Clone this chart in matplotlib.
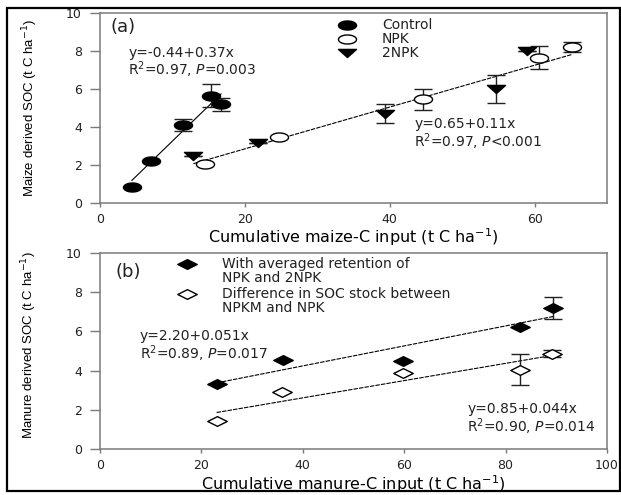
import numpy as np
import matplotlib
matplotlib.use("Agg")
import matplotlib.pyplot as plt
from matplotlib.path import Path
from matplotlib.patches import Rectangle

# ---------- DATA: panel (a) ----------
ctrl_x = [4.4, 7.0, 11.4, 15.3, 16.7]
ctrl_y = [0.85, 2.2, 4.1, 5.65, 5.2]
ctrl_err = [0.0, 0.0, 0.3, 0.6, 0.35]

npk_x = [14.5, 24.7, 44.6, 60.6, 65.1]
npk_y = [2.05, 3.5, 5.45, 7.65, 8.2]
npk_err = [0.0, 0.0, 0.55, 0.6, 0.25]

npk2_x = [12.9, 21.8, 39.4, 54.7, 59.0]
npk2_y = [2.5, 3.15, 4.7, 6.0, 8.0]
npk2_err = [0.0, 0.0, 0.5, 0.75, 0.0]

fit_a1 = (-0.44, 0.37)   # control
fit_a2 = (0.65, 0.11)    # NPK + 2NPK

# ---------- DATA: panel (b) ----------
avg_x = [23.0, 36.0, 59.8, 82.8, 89.4]
avg_y = [3.33, 4.55, 4.5, 6.2, 7.2]
avg_err = [0.0, 0.0, 0.0, 0.0, 0.55]

diff_x = [23.0, 35.8, 59.7, 82.8, 89.1]
diff_y = [1.45, 2.9, 3.88, 4.05, 4.87]
diff_err = [0.0, 0.0, 0.0, 0.8, 0.2]

fit_b1 = (2.20, 0.051)
fit_b2 = (0.85, 0.044)

# ---------- wide markers (picture is stretched sideways) ----------
t = np.linspace(0, 2 * np.pi, 60)
ellipse = Path(np.column_stack([np.cos(t), 0.5 * np.sin(t)]), closed=True)
tri_down = Path([(-1, 0.45), (1, 0.45), (0, -0.45), (-1, 0.45)], closed=True)
diamond = Path([(-1, 0), (0, 0.5), (1, 0), (0, -0.5), (-1, 0)], closed=True)

plt.rcParams['font.family'] = ['DejaVu Sans']
plt.rcParams['mathtext.fontset'] = 'dejavusans'

W, H = 621, 495
fig = plt.figure(figsize=(W / 100, H / 100), dpi=100)


def px_axes(left, top, right, bottom):
    return fig.add_axes([left / W, 1 - bottom / H, (right - left) / W, (bottom - top) / H])


ax1 = px_axes(100, 13, 607, 203)
ax2 = px_axes(100, 253, 607, 449)

spine_col = "#7a7a7a"
txt_col = "#222222"
FS = 10          # in-plot text
XL = 11.5        # x axis labels
ylab_font = ['Liberation Sans', 'DejaVu Sans']


def style(ax, xlim, xticks):
    ax.set_xlim(*xlim)
    ax.set_ylim(0, 10)
    ax.set_xticks(xticks)
    ax.set_yticks(range(0, 11, 2))
    for s in ax.spines.values():
        s.set_color(spine_col)
        s.set_linewidth(1.1)
    ax.tick_params(axis='y', direction='out', length=7, width=1, color=spine_col,
                   labelsize=9, labelcolor=txt_col, pad=6)
    ax.tick_params(axis='x', direction='out', length=3, width=1, color=spine_col,
                   labelsize=9, labelcolor=txt_col, pad=4.5)


def series(ax, x, y, err, marker, ms, face):
    ax.errorbar(x, y, yerr=err, fmt='none', ecolor='#222222', elinewidth=1,
                capsize=6.5, capthick=1, zorder=2)
    ax.plot(x, y, linestyle='none', marker=marker, markersize=ms,
            markerfacecolor=face, markeredgecolor='black', markeredgewidth=1, zorder=3)


def fit_line(ax, fit, xs, ls='-'):
    xx = np.array([min(xs), max(xs)])
    ax.plot(xx, fit[0] + fit[1] * xx, color='black', lw=0.8, ls=ls, zorder=1)


def two_lines(ax, x, ymid, l1, l2, dy):
    # dy = half the gap between the two lines, in data units
    ax.text(x, ymid + dy, l1, fontsize=FS, va='center', color=txt_col)
    ax.text(x, ymid - dy, l2, fontsize=FS, va='center', color=txt_col)


# ---------- panel (a) ----------
style(ax1, (0, 70), [0, 20, 40, 60])
fit_line(ax1, fit_a1, ctrl_x)
fit_line(ax1, fit_a2, npk_x + npk2_x, ls=(0, (4, 1)))
series(ax1, ctrl_x, ctrl_y, ctrl_err, ellipse, 13, 'black')
series(ax1, npk_x, npk_y, npk_err, ellipse, 13, 'white')
series(ax1, npk2_x, npk2_y, npk2_err, tri_down, 13, 'black')

ax1.text(1.4, 9.26, "(a)", fontsize=13, va='center', color=txt_col)
two_lines(ax1, 3.9, 7.45, "y=-0.44+0.37x", r"R$^2$=0.97, $P$=0.003", 0.46)
two_lines(ax1, 43.4, 3.71, "y=0.65+0.11x", r"R$^2$=0.97, $P$<0.001", 0.46)

leg_a = [("Control", ellipse, 'black'), ("NPK", ellipse, 'white'), ("2NPK", tri_down, 'black')]
for i, (lab, mk, fc) in enumerate(leg_a):
    yy = 0.937 - i * 0.074
    ax1.plot([0.487], [yy], transform=ax1.transAxes, marker=mk, markersize=13,
             markerfacecolor=fc, markeredgecolor='black', markeredgewidth=1, clip_on=False)
    ax1.text(0.556, yy, lab, transform=ax1.transAxes, fontsize=FS, va='center', color=txt_col)

ax1.set_xlabel(r"Cumulative maize-C input (t C ha$^{-1}$)", fontsize=XL, color='black')
ax1.xaxis.set_label_coords(0.5, -0.18)
ax1.xaxis.label.set_va('center')
ax1.set_ylabel(r"Maize derived SOC (t C ha$^{-1}$)", fontsize=9.5, family=ylab_font)
ax1.yaxis.set_label_coords(-0.138, 0.5)
ax1.yaxis.label.set_va('center')

# ---------- panel (b) ----------
style(ax2, (0, 100), [0, 20, 40, 60, 80, 100])
fit_line(ax2, fit_b1, avg_x, ls=(0, (4, 1)))
fit_line(ax2, fit_b2, diff_x, ls=(0, (4, 1)))
series(ax2, avg_x, avg_y, avg_err, diamond, 14, 'black')
series(ax2, diff_x, diff_y, diff_err, diamond, 14, 'white')

ax2.text(3.0, 9.03, "(b)", fontsize=13, va='center', color=txt_col)
two_lines(ax2, 7.9, 5.33, "y=2.20+0.051x", r"R$^2$=0.89, $P$=0.017", 0.45)
two_lines(ax2, 72.4, 1.61, "y=0.85+0.044x", r"R$^2$=0.90, $P$=0.014", 0.45)

leg_b = [(["With averaged retention of", "NPK and 2NPK"], 'black', 0.945),
         (["Difference in SOC stock between", "NPKM and NPK"], 'white', 0.79)]
for lines, fc, yy in leg_b:
    ax2.plot([0.172], [yy], transform=ax2.transAxes, marker=diamond, markersize=14,
             markerfacecolor=fc, markeredgecolor='black', markeredgewidth=1, clip_on=False)
    for j, ln in enumerate(lines):
        ax2.text(0.241, yy - j * 0.07, ln, transform=ax2.transAxes, fontsize=FS,
                 va='center', color=txt_col)

ax2.set_xlabel(r"Cumulative manure-C input (t C ha$^{-1}$)", fontsize=XL, color='black')
ax2.xaxis.set_label_coords(0.5, -0.18)
ax2.xaxis.label.set_va('center')
ax2.set_ylabel(r"Manure derived SOC (t C ha$^{-1}$)", fontsize=9.5, family=ylab_font)
ax2.yaxis.set_label_coords(-0.14, 0.53)
ax2.yaxis.label.set_va('center')

# outer frame of the picture
fig.add_artist(Rectangle((7 / W, 1 - 491 / H), (620 - 7) / W, (491 - 8) / H,
                         transform=fig.transFigure, fill=False, lw=1.6, ec='black'))

fig.savefig("out.png", dpi=100)
